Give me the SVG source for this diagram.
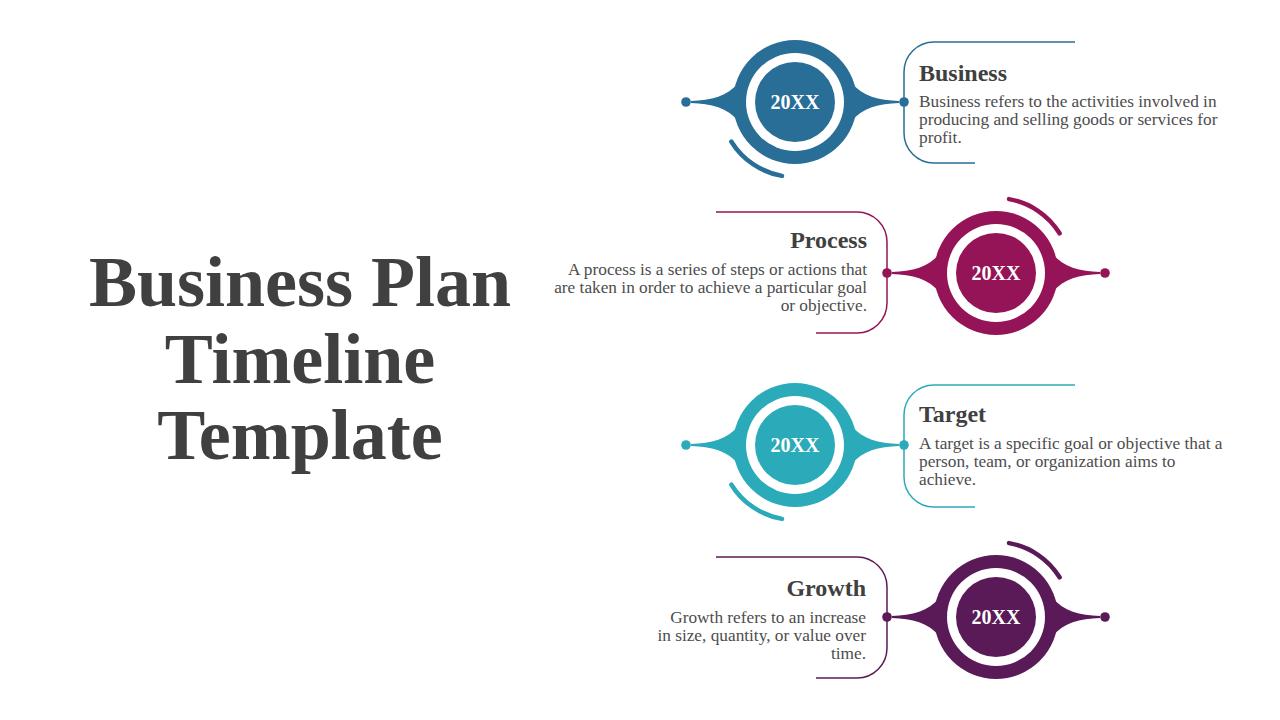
<svg xmlns="http://www.w3.org/2000/svg" xmlns:xlink="http://www.w3.org/1999/xlink" width="1280" height="720" viewBox="0 0 1280 720">
<style>
.title{font-family:"Liberation Serif","Times New Roman",serif;font-weight:bold;font-size:72px;fill:#404040;text-anchor:middle}
.head{font-family:"Liberation Serif","Times New Roman",serif;font-weight:bold;font-size:24px;fill:#404040}
.desc{font-family:"Liberation Serif","Times New Roman",serif;font-size:17.3px;fill:#4d4d4d}
.year{font-family:"Liberation Serif","Times New Roman",serif;font-weight:bold;font-size:20px;fill:#ffffff;text-anchor:middle}
.r{text-anchor:end}
.bracket{fill:none;stroke-width:1.5}
.arc{fill:none;stroke-width:4.5;stroke-linecap:round}
.f1{fill:#286E96}.s1{stroke:#286E96}
.f2{fill:#951457}.s2{stroke:#951457}
.f3{fill:#2BABB9}.s3{stroke:#2BABB9}
.f4{fill:#5A1A57}.s4{stroke:#5A1A57}
</style>
<defs>
<g id="badge" stroke="none">
<circle r="62"/>
<circle r="49" fill="#ffffff"/>
<circle r="40"/>
<path d="M57,-19 C67,-6 84,-1.5 104,-1 L104,1 C84,1.5 67,6 57,19 Z"/>
<path d="M-57,-19 C-67,-6 -84,-1.5 -104,-1 L-104,1 C-84,1.5 -67,6 -57,19 Z"/>
<circle cx="109" r="4.8"/>
<circle cx="-109" r="4.8"/>
</g>
</defs>
<rect width="1280" height="720" fill="#ffffff"/>
<g id="heading">
<text class="title" x="300" y="306">Business Plan</text>
<text class="title" x="300" y="383">Timeline</text>
<text class="title" x="300" y="459">Template</text>
</g>
<g id="connectors">
<path class="bracket s1" d="M1075,42 H934 A30,30 0 0 0 904,72 V133 A30,30 0 0 0 934,163 H975"/>
<path class="bracket s2" d="M716,212 H857 A30,30 0 0 1 887,242 V303 A30,30 0 0 1 857,333 H816"/>
<path class="bracket s3" d="M1075,385 H934 A30,30 0 0 0 904,415 V477 A30,30 0 0 0 934,507 H975"/>
<path class="bracket s4" d="M716,557 H857 A30,30 0 0 1 887,587 V648 A30,30 0 0 1 857,678 H816"/>
</g>
<g id="node-business">
<use xlink:href="#badge" href="#badge" transform="translate(795,102)" class="f1"/>
<path class="arc s1" d="M731.4,141.7 A75,75 0 0 0 782,175.9"/>
<text class="year" x="795" y="109">20XX</text>
<text class="head" x="919" y="81">Business</text>
<text class="desc" x="919" y="107">Business refers to the activities involved in</text>
<text class="desc" x="919" y="125">producing and selling goods or services for</text>
<text class="desc" x="919" y="143">profit.</text>
</g>
<g id="node-process">
<use xlink:href="#badge" href="#badge" transform="translate(996,273)" class="f2"/>
<path class="arc s2" d="M1009,199.1 A75,75 0 0 1 1059.6,233.3"/>
<text class="year" x="996" y="280">20XX</text>
<text class="head r" x="867" y="248">Process</text>
<text class="desc r" x="867" y="275">A process is a series of steps or actions that</text>
<text class="desc r" x="867" y="293">are taken in order to achieve a particular goal</text>
<text class="desc r" x="867" y="311">or objective.</text>
</g>
<g id="node-target">
<use xlink:href="#badge" href="#badge" transform="translate(795,445)" class="f3"/>
<path class="arc s3" d="M731.4,484.7 A75,75 0 0 0 782,518.9"/>
<text class="year" x="795" y="452">20XX</text>
<text class="head" x="919" y="422">Target</text>
<text class="desc" x="919" y="449">A target is a specific goal or objective that a</text>
<text class="desc" x="919" y="467">person, team, or organization aims to</text>
<text class="desc" x="919" y="485">achieve.</text>
</g>
<g id="node-growth">
<use xlink:href="#badge" href="#badge" transform="translate(996,617)" class="f4"/>
<path class="arc s4" d="M1009,543.1 A75,75 0 0 1 1059.6,577.3"/>
<text class="year" x="996" y="624">20XX</text>
<text class="head r" x="866" y="596">Growth</text>
<text class="desc r" x="866" y="623">Growth refers to an increase</text>
<text class="desc r" x="866" y="641">in size, quantity, or value over</text>
<text class="desc r" x="866" y="659">time.</text>
</g>
</svg>
